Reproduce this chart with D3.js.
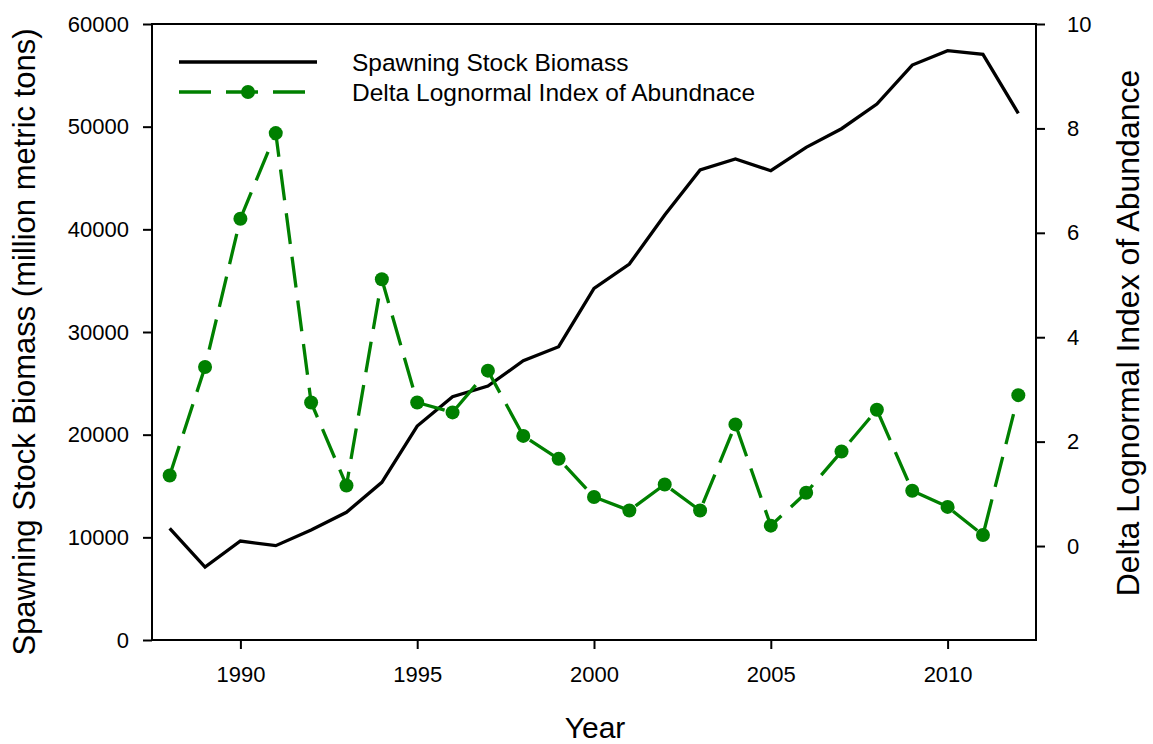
<!DOCTYPE html>
<html>
<head>
<meta charset="utf-8">
<script src="https://cdn.jsdelivr.net/npm/d3@7"></script>
<style>
  html, body { margin: 0; padding: 0; background: #fff; }
  svg { display: block; font-family: Arial, "Liberation Sans", sans-serif; }
</style>
</head>
<body>
<svg id="chart" width="1153" height="744"></svg>
<script>
const years = [1988,1989,1990,1991,1992,1993,1994,1995,1996,1997,1998,1999,2000,2001,2002,2003,2004,2005,2006,2007,2008,2009,2010,2011,2012];
const biomass = [10880,7100,9640,9190,10710,12440,15360,20840,23700,24740,27200,28570,34250,36620,41390,45780,46850,45710,47990,49800,52200,56000,57400,57050,51300];
const abundance = [1.35,3.43,6.27,7.91,2.75,1.16,5.11,2.75,2.56,3.36,2.11,1.67,0.94,0.68,1.18,0.68,2.33,0.39,1.02,1.81,2.61,1.06,0.75,0.21,2.89];
const xTicks = [1990,1995,2000,2005,2010];
const leftTicks = [0,10000,20000,30000,40000,50000,60000];
const rightTicks = [0,2,4,6,8,10];
const seriesNames = ["Spawning Stock Biomass","Delta Lognormal Index of Abundnace"];
const xTitle = "Year";
const leftTitle = "Spawning Stock Biomass (million metric tons)";
const rightTitle = "Delta Lognormal Index of Abundance";

const svg = d3.select("#chart");
const L = 152, R = 1036, T = 24, B = 640;
const green = "#008000";

const x = d3.scaleLinear().domain([1987.5, 2012.5]).range([L, R]);
const yL = d3.scaleLinear().domain([0, 60000]).range([B, T]);
const yR = d3.scaleLinear().domain([-1.8, 10]).range([B, T]);

function styleAxis(g) {
  g.select(".domain").remove();
  g.selectAll(".tick line").attr("stroke", "#000").attr("stroke-width", 2);
  g.selectAll(".tick text").attr("fill", "#000").style("font-size", "22px")
    .style("font-family", "Arial, 'Liberation Sans', sans-serif");
}

// frame
svg.append("rect").attr("x", L).attr("y", T).attr("width", R - L).attr("height", B - T)
  .attr("fill", "none").attr("stroke", "#000").attr("stroke-width", 2);

svg.append("g").attr("transform", `translate(0,${B})`)
  .call(d3.axisBottom(x).tickValues(xTicks).tickFormat(d3.format("d")).tickSize(9).tickPadding(17))
  .call(styleAxis);

svg.append("g").attr("transform", `translate(${L},0)`)
  .call(d3.axisLeft(yL).tickValues(leftTicks).tickFormat(d3.format("d")).tickSize(9).tickPadding(14))
  .call(styleAxis);

svg.append("g").attr("transform", `translate(${R},0)`)
  .call(d3.axisRight(yR).tickValues(rightTicks).tickFormat(d3.format("d")).tickSize(9).tickPadding(22))
  .call(styleAxis);

// titles
svg.append("text").attr("x", 595).attr("y", 738).attr("text-anchor", "middle")
  .style("font-size", "30px").text(xTitle);
svg.append("text").attr("transform", `translate(35,342) rotate(-90)`).attr("text-anchor", "middle")
  .style("font-size", "31px").text(leftTitle);
svg.append("text").attr("transform", `translate(1139,333) rotate(-90)`).attr("text-anchor", "middle")
  .style("font-size", "32px").text(rightTitle);

// biomass line
const lineL = d3.line().x((d, i) => x(years[i])).y(d => yL(d));
svg.append("path").datum(biomass).attr("d", lineL)
  .attr("fill", "none").attr("stroke", "#000").attr("stroke-width", 3.3).attr("stroke-linejoin", "miter");

// abundance line
const lineR = d3.line().x((d, i) => x(years[i])).y(d => yR(d));
svg.append("path").datum(abundance).attr("d", lineR)
  .attr("fill", "none").attr("stroke", green).attr("stroke-width", 3.3).attr("stroke-dasharray", "31,13");
svg.append("g").selectAll("circle").data(abundance).join("circle")
  .attr("cx", (d, i) => x(years[i])).attr("cy", d => yR(d)).attr("r", 7).attr("fill", green);

// legend
const lg = svg.append("g");
lg.append("line").attr("x1", 179).attr("x2", 317).attr("y1", 62).attr("y2", 62)
  .attr("stroke", "#000").attr("stroke-width", 3.3);
lg.append("text").attr("x", 352).attr("y", 62).attr("dy", "0.35em").style("font-size", "24.5px").text(seriesNames[0]);
lg.append("line").attr("x1", 179).attr("x2", 317).attr("y1", 92).attr("y2", 92)
  .attr("stroke", green).attr("stroke-width", 3.3).attr("stroke-dasharray", "32,15");
lg.append("circle").attr("cx", 248).attr("cy", 92).attr("r", 7).attr("fill", green);
lg.append("text").attr("x", 352).attr("y", 92).attr("dy", "0.35em").style("font-size", "24.5px").text(seriesNames[1]);
</script>
</body>
</html>
